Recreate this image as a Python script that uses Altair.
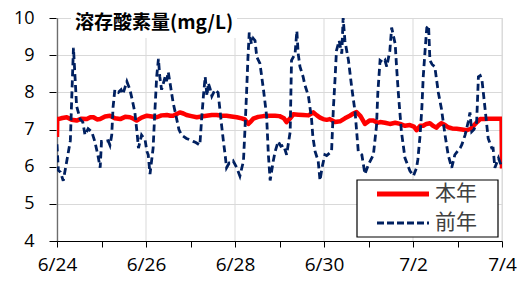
import json
import altair as alt
import pandas as pd

# ---- data ----
series_names = ["本年", "前年"]
date_labels = ["6/24", "6/25", "6/26", "6/27", "6/28", "6/29", "6/30", "7/1", "7/2", "7/3", "7/4"]
y_ticks = [4, 5, 6, 7, 8, 9, 10]
grid_days = [0, 2, 4, 6, 8, 10]

# 本年 (days since 6/24 0:00, mg/L)
now_days = [0.0, 0.005, 0.03, 0.12, 0.22, 0.33, 0.44, 0.55, 0.67, 0.75, 0.82, 0.9, 0.97, 1.08, 1.19, 1.3,
            1.42, 1.53, 1.64, 1.72, 1.79, 1.9, 2.02, 2.13, 2.24, 2.35, 2.47, 2.55, 2.61, 2.7, 2.76, 2.84,
            2.91, 3.02, 3.14, 3.25, 3.36, 3.48, 3.59, 3.7, 3.81, 3.92, 4.04, 4.15, 4.22, 4.3, 4.36, 4.41,
            4.52, 4.64, 4.79, 4.9, 5.0, 5.1, 5.16, 5.24, 5.31, 5.42, 5.53, 5.65, 5.76, 5.84, 5.91, 5.98,
            6.06, 6.13, 6.25, 6.36, 6.47, 6.58, 6.66, 6.73, 6.82, 6.92, 7.02, 7.11, 7.2, 7.26, 7.37, 7.48,
            7.6, 7.71, 7.82, 7.93, 8.02, 8.08, 8.16, 8.23, 8.3, 8.38, 8.45, 8.53, 8.58, 8.64, 8.72, 8.79,
            8.88, 8.98, 9.1, 9.21, 9.3, 9.36, 9.44, 9.51, 9.6, 9.7, 9.8, 9.9, 9.99, 10.0]
now_do = [6.8, 7.28, 7.28, 7.31, 7.33, 7.26, 7.24, 7.29, 7.28, 7.33, 7.33, 7.27, 7.28, 7.35, 7.37, 7.3,
          7.28, 7.34, 7.33, 7.29, 7.24, 7.32, 7.37, 7.35, 7.33, 7.38, 7.39, 7.37, 7.37, 7.42, 7.46, 7.43,
          7.39, 7.36, 7.33, 7.35, 7.37, 7.39, 7.39, 7.37, 7.37, 7.35, 7.33, 7.3, 7.27, 7.15, 7.22, 7.29,
          7.34, 7.36, 7.37, 7.37, 7.36, 7.3, 7.2, 7.3, 7.41, 7.4, 7.39, 7.38, 7.46, 7.38, 7.32, 7.28,
          7.26, 7.28, 7.2, 7.22, 7.3, 7.37, 7.43, 7.47, 7.36, 7.15, 7.24, 7.24, 7.18, 7.2, 7.18, 7.15,
          7.18, 7.15, 7.1, 7.12, 7.08, 6.98, 7.1, 7.1, 7.15, 7.17, 7.1, 7.05, 7.12, 7.17, 7.12, 7.06,
          7.03, 7.02, 7.0, 6.98, 7.02, 7.1, 7.2, 7.28, 7.28, 7.29, 7.29, 7.29, 7.29, 5.95]

# 前年
prev_days = [0.0, 0.03, 0.08, 0.14, 0.22, 0.3, 0.33, 0.37, 0.44, 0.47, 0.52, 0.58, 0.63, 0.7, 0.78, 0.85,
             0.92, 0.97, 1.0, 1.08, 1.15, 1.19, 1.23, 1.26, 1.3, 1.38, 1.44, 1.48, 1.57, 1.64, 1.69, 1.75,
             1.8, 1.83, 1.9, 1.98, 2.02, 2.05, 2.09, 2.16, 2.2, 2.24, 2.28, 2.31, 2.35, 2.43, 2.46, 2.5,
             2.54, 2.61, 2.69, 2.74, 2.8, 2.91, 2.99, 3.06, 3.12, 3.21, 3.25, 3.29, 3.33, 3.37, 3.4, 3.44,
             3.48, 3.55, 3.62, 3.66, 3.7, 3.74, 3.78, 3.81, 3.87, 3.93, 3.96, 4.04, 4.11, 4.19, 4.22, 4.26,
             4.29, 4.32, 4.37, 4.41, 4.45, 4.49, 4.56, 4.64, 4.71, 4.75, 4.79, 4.86, 4.9, 4.97, 5.03, 5.09,
             5.16, 5.24, 5.27, 5.35, 5.39, 5.42, 5.46, 5.53, 5.57, 5.65, 5.72, 5.75, 5.8, 5.87, 5.91, 5.96,
             6.02, 6.06, 6.17, 6.21, 6.25, 6.28, 6.34, 6.4, 6.43, 6.47, 6.55, 6.62, 6.7, 6.77, 6.85, 6.88,
             6.92, 7.0, 7.11, 7.18, 7.21, 7.26, 7.33, 7.37, 7.41, 7.48, 7.52, 7.6, 7.63, 7.67, 7.74, 7.82,
             7.93, 8.01, 8.08, 8.11, 8.16, 8.2, 8.23, 8.27, 8.31, 8.35, 8.38, 8.43, 8.49, 8.57, 8.64, 8.72,
             8.79, 8.87, 8.94, 8.99, 9.06, 9.1, 9.17, 9.24, 9.28, 9.32, 9.37, 9.43, 9.45, 9.47, 9.51, 9.55,
             9.58, 9.62, 9.69, 9.77, 9.8, 9.84, 9.92, 10.0]
prev_do = [6.6, 5.9, 5.85, 5.62, 6.15, 6.7, 7.8, 9.2, 7.63, 7.5, 7.28, 7.2, 6.85, 7.02, 6.94, 6.68,
           6.3, 5.97, 6.68, 6.68, 6.7, 6.58, 6.85, 7.6, 8.07, 8.0, 8.07, 7.95, 8.29, 8.07, 7.8, 7.46,
           6.9, 6.5, 6.85, 6.72, 6.41, 6.32, 5.8, 6.5, 7.5, 8.42, 8.9, 8.42, 8.07, 8.42, 8.3, 8.55,
           8.25, 7.72, 7.28, 7.0, 6.85, 6.76, 6.72, 6.68, 6.65, 6.58, 7.28, 7.9, 8.42, 7.9, 8.25, 8.1,
           7.9, 8.07, 7.99, 7.55, 7.1, 6.68, 6.3, 5.97, 6.1, 6.1, 6.15, 5.97, 5.75, 6.15, 6.9, 7.99,
           8.9, 9.61, 9.3, 9.45, 9.39, 8.95, 8.78, 8.07, 7.37, 6.32, 5.63, 6.15, 6.4, 6.68, 6.55, 6.58,
           6.32, 6.94, 8.86, 9.04, 9.65, 9.04, 8.69, 8.42, 8.2, 7.9, 7.28, 6.8, 6.41, 6.15, 5.63, 6.0,
           6.32, 6.3, 6.41, 7.55, 8.4, 9.12, 9.39, 9.04, 10.0, 9.39, 8.86, 8.16, 7.46, 6.41, 6.32, 6.1,
           5.8, 6.06, 6.32, 7.1, 8.0, 8.86, 8.8, 8.86, 8.69, 9.12, 9.74, 9.3, 8.7, 7.99, 6.94, 6.23,
           5.89, 5.75, 5.97, 6.2, 6.85, 7.6, 8.42, 9.1, 9.74, 9.8, 8.86, 8.75, 8.69, 7.99, 7.55, 6.85,
           6.32, 5.97, 6.32, 6.4, 6.5, 6.6, 6.85, 7.2, 7.46, 6.94, 7.0, 7.19, 7.8, 8.42, 8.45, 8.33,
           8.0, 7.55, 6.76, 6.5, 6.5, 5.97, 6.23, 5.97]

title_text = "溶存酸素量(mg/L)"

# ---- styling ----
RED = "#FF0000"
NAVY = "#002060"
GRID = "#D9D9D9"
NUM_FONT = "Open Sans"
CJK_FONT = "Noto Sans CJK JP"
W, H = 445, 223

now_df = pd.DataFrame({"day": now_days, "do": now_do, "series": series_names[0]})
prev_df = pd.DataFrame({"day": prev_days, "do": prev_do, "series": series_names[1]})
grid_df = pd.DataFrame({"day": grid_days, "lo": y_ticks[0], "hi": y_ticks[-1]})

label_expr = f"datum.value % 2 === 0 ? {json.dumps(date_labels)}[datum.value] : ''"

x_scale = alt.Scale(domain=[0, len(date_labels) - 1], nice=False, zero=False)
y_scale = alt.Scale(domain=[y_ticks[0], y_ticks[-1]], nice=False, zero=False)

x_axis = alt.Axis(
    values=list(range(len(date_labels))), labelExpr=label_expr, title=None,
    labelFlush=False, labelOverlap=False, grid=False,
    tickSize=6, tickColor="#000", domainColor="#000", domainWidth=1.2,
    labelFont=NUM_FONT, labelFontSize=19, labelColor="#000", labelPadding=8,
)
y_axis = alt.Axis(
    values=y_ticks, title=None, tickSize=8, tickColor="#000", domainColor="#000",
    domainWidth=1.2, labelFont=NUM_FONT, labelFontSize=18, labelColor="#000",
    labelPadding=15, labelOverlap=False, labelFlush=False,
    grid=True, gridColor=GRID, gridWidth=1,
)

one = pd.DataFrame({"k": [0]})

# vertical grid lines every two days
vgrid = alt.Chart(grid_df).mark_rule(color=GRID, strokeWidth=1).encode(
    x=alt.X("day:Q", scale=x_scale, axis=x_axis),
    y=alt.Y("lo:Q", scale=y_scale, axis=y_axis),
    y2="hi:Q",
)

red_line = alt.Chart(now_df).mark_line(
    color=RED, strokeWidth=4.5, strokeJoin="round", clip=True
).encode(x=alt.X("day:Q", scale=x_scale, axis=x_axis), y=alt.Y("do:Q", scale=y_scale, axis=y_axis))

title_bg = alt.Chart(one).mark_rect(fill="white").encode(
    x=alt.value(14), x2=alt.value(180), y=alt.value(-2), y2=alt.value(20)
)

blue_line = alt.Chart(prev_df).mark_line(
    color=NAVY, strokeWidth=2.8, strokeDash=[7, 4], clip=True
).encode(x=alt.X("day:Q", scale=x_scale, axis=x_axis), y=alt.Y("do:Q", scale=y_scale, axis=y_axis))

title_mark = alt.Chart(one).mark_text(
    text=title_text, font=CJK_FONT, fontSize=19, fontWeight="bold", align="left",
    baseline="middle", color="#000"
).encode(x=alt.value(18), y=alt.value(5))

# legend box drawn by hand
leg_box = alt.Chart(one).mark_rect(fill="white", stroke="#000", strokeWidth=1.2).encode(
    x=alt.value(300), x2=alt.value(441), y=alt.value(162), y2=alt.value(219)
)
leg_red = alt.Chart(one).mark_rule(color=RED, strokeWidth=5).encode(
    x=alt.value(320), x2=alt.value(372), y=alt.value(176)
)
leg_blue = alt.Chart(one).mark_rule(color=NAVY, strokeWidth=3, strokeDash=[7, 3]).encode(
    x=alt.value(320), x2=alt.value(372), y=alt.value(205)
)
leg_t1 = alt.Chart(one).mark_text(
    text=series_names[0], font=CJK_FONT, fontSize=21, align="left", baseline="middle", color="#404040"
).encode(x=alt.value(378), y=alt.value(176))
leg_t2 = alt.Chart(one).mark_text(
    text=series_names[1], font=CJK_FONT, fontSize=21, align="left", baseline="middle", color="#404040"
).encode(x=alt.value(378), y=alt.value(205))

chart = alt.layer(
    vgrid, red_line, title_bg, blue_line, title_mark,
    leg_box, leg_red, leg_blue, leg_t1, leg_t2
).properties(
    width=W, height=H,
    autosize=alt.AutoSizeParams(type="none"),
    padding={"left": 49, "top": 10, "right": 19, "bottom": 40},
).configure_view(stroke=None).configure(background="white")

chart.save("out.html", embed_options={"renderer": "svg", "actions": False})
